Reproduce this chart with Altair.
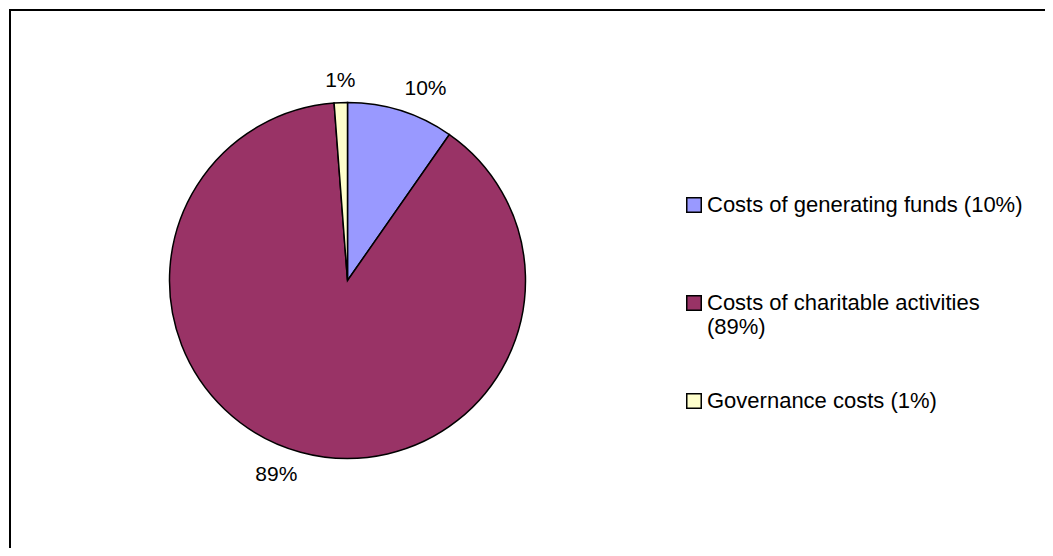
import altair as alt
import pandas as pd

categories = ["Costs of generating funds (10%)",
              "Costs of charitable activities (89%)",
              "Governance costs (1%)"]
values = [9.7, 89.1, 1.2]
labels = ["10%", "89%", "1%"]
colors = ["#9999FF", "#993366", "#FFFFCC"]
order = [0, 1, 2]

df = pd.DataFrame({"category": categories, "value": values,
                   "label": labels, "order": order})

W, H = 1037, 540
CX, CY, R = 338.5, 271.5, 178
FONT = "Liberation Sans"

base = alt.Chart(df)

pie = base.mark_arc(stroke="black", strokeWidth=1.5).encode(
    theta=alt.Theta("value:Q", stack=True),
    order=alt.Order("order:Q"),
    color=alt.Color(
        "category:N",
        scale=alt.Scale(domain=categories, range=colors),
        sort=categories,
        legend=alt.Legend(
            title=None,
            orient="none",
            legendX=674,
            legendY=185,
            symbolType="square",
            symbolSize=210,
            symbolStrokeColor="black",
            symbolStrokeWidth=1.5,
            labelFont=FONT,
            labelFontSize=22,
            labelColor="black",
            labelLimit=400,
            labelOffset=2,
            rowPadding=52,
            gridAlign="all",
            labelBaseline="middle",
            labelExpr="datum.label == 'Costs of charitable activities (89%)' ? ['Costs of charitable activities', '(89%)'] : datum.label",
        ),
    ),
    x=alt.value(CX),
    y=alt.value(CY),
    radius=alt.value(R),
)

mid = "(2 * PI * (datum.value_start + datum.value_end) / 2 / datum.total)"
text = base.transform_joinaggregate(total="sum(value)").mark_text(
    font=FONT, fontSize=21, color="black",
    align=alt.ExprRef(f"sin({mid}) > 0.1 ? 'left' : (sin({mid}) < -0.1 ? 'right' : 'center')"),
    baseline=alt.ExprRef(f"cos({mid}) > 0 ? 'bottom' : 'top'"),
).encode(
    theta=alt.Theta("value:Q", stack=True),
    order=alt.Order("order:Q"),
    text="label:N",
    x=alt.value(CX),
    y=alt.value(CY),
    radius=alt.value(R + 12),
)

top_border = alt.Chart(pd.DataFrame({"a": [0]})).mark_rule(
    color="black", strokeWidth=2
).encode(x=alt.value(0), x2=alt.value(W), y=alt.value(1))
left_border = alt.Chart(pd.DataFrame({"a": [0]})).mark_rule(
    color="black", strokeWidth=2
).encode(x=alt.value(1), y=alt.value(0), y2=alt.value(H))

chart = alt.layer(pie, text, top_border, left_border).properties(
    width=W, height=H,
    autosize=alt.AutoSizeParams(type="fit", contains="padding"),
    padding=0,
).configure_view(stroke=None)

chart.save("out.html", embed_options={"renderer": "svg", "actions": False})
